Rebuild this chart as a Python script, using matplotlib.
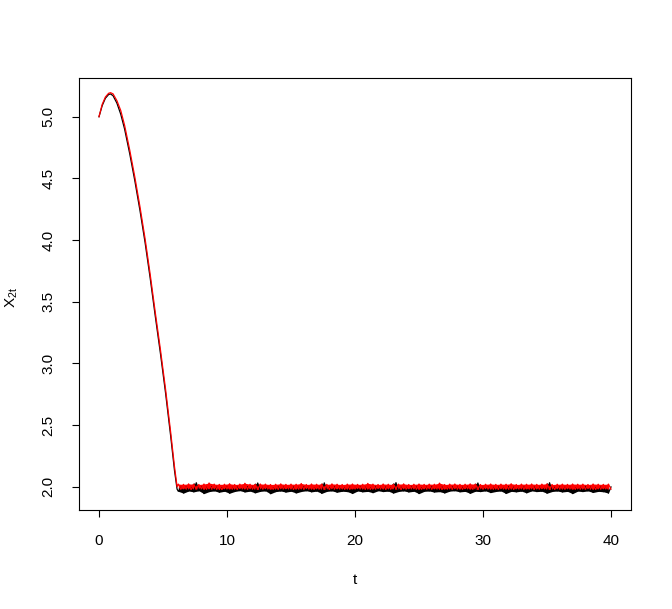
import numpy as np
import matplotlib
matplotlib.use("Agg")
import matplotlib.pyplot as plt

plt.rcParams['font.family'] = ['Liberation Sans', 'DejaVu Sans']

# transient part
t_curve = [0, 0.25, 0.5, 0.75, 0.9, 1.1, 1.4, 1.7, 2.0, 2.4, 2.8, 3.2,
           3.6, 4.0, 4.4, 4.8, 5.2, 5.6, 5.9, 6.1]
x2_black_curve = [5.00, 5.09, 5.15, 5.18, 5.185, 5.17, 5.11, 5.02, 4.90, 4.70,
                  4.48, 4.24, 3.98, 3.69, 3.38, 3.08, 2.76, 2.41, 2.13, 1.98]
x2_red_curve = [5.00, 5.10, 5.16, 5.19, 5.195, 5.185, 5.13, 5.05, 4.93, 4.73,
                4.51, 4.27, 4.01, 3.72, 3.41, 3.11, 2.79, 2.44, 2.16, 2.00]

# noisy plateau, sampled every 0.2 from t = 6.2 to 40 (high / low swings)
red_hi = [2.021, 2.019, 2.023, 2.020, 2.018, 2.022, 2.030, 2.021, 2.019, 2.020,
          2.024, 2.018, 2.021, 2.028, 2.020, 2.019, 2.022, 2.021, 2.018, 2.020,
          2.023, 2.019, 2.021, 2.020, 2.026, 2.018, 2.022, 2.020, 2.021, 2.019,
          2.023, 2.020, 2.018, 2.021, 2.022, 2.019, 2.020, 2.027, 2.021, 2.018,
          2.022, 2.020, 2.019, 2.021, 2.023, 2.018, 2.020, 2.022, 2.019, 2.021,
          2.020, 2.029, 2.018, 2.021, 2.022, 2.019, 2.020, 2.023, 2.021, 2.018,
          2.020, 2.022, 2.019, 2.021, 2.020, 2.024, 2.018, 2.021, 2.020, 2.022,
          2.019, 2.021, 2.023, 2.018, 2.020, 2.021, 2.019, 2.022, 2.020, 2.021,
          2.018, 2.022, 2.020, 2.019, 2.021]
red_lo = [1.980, 1.983, 1.978, 1.981, 1.984, 1.979, 1.982, 1.980, 1.977, 1.983,
          1.981, 1.979, 1.984, 1.980, 1.982, 1.978, 1.981, 1.983, 1.979, 1.980,
          1.982, 1.984, 1.978, 1.981, 1.980, 1.983, 1.979, 1.982, 1.980, 1.978,
          1.981, 1.983, 1.980, 1.979, 1.982, 1.984, 1.980, 1.978, 1.981, 1.983,
          1.979, 1.980, 1.982, 1.978, 1.981, 1.984, 1.980, 1.979, 1.982, 1.980,
          1.983, 1.978, 1.981, 1.980, 1.982, 1.979, 1.984, 1.980, 1.978, 1.981,
          1.983, 1.980, 1.979, 1.982, 1.981, 1.978, 1.983, 1.980, 1.982, 1.979,
          1.981, 1.984, 1.980, 1.978, 1.982, 1.980, 1.983, 1.979, 1.981, 1.980,
          1.982, 1.978, 1.981, 1.983, 1.980]
black_hi = [1.996, 1.998, 1.994, 2.032, 1.997, 1.995, 1.999, 1.996, 1.993, 1.998,
            1.995, 1.997, 1.994, 1.999, 1.996, 2.030, 1.995, 1.997, 1.993, 1.998,
            1.996, 1.994, 1.997, 1.995, 1.999, 1.996, 1.993, 1.997, 2.031, 1.995,
            1.998, 1.996, 1.994, 1.997, 1.995, 1.999, 1.996, 1.993, 1.998, 1.995,
            1.997, 1.994, 2.033, 1.996, 1.995, 1.998, 1.997, 1.993, 1.996, 1.999,
            1.995, 1.997, 1.994, 1.998, 1.996, 1.995, 1.997, 1.993, 2.030, 1.996,
            1.998, 1.995, 1.997, 1.994, 1.999, 1.996, 1.995, 1.998, 1.993, 1.997,
            1.996, 1.994, 2.032, 1.995, 1.998, 1.996, 1.997, 1.993, 1.995, 1.999,
            1.996, 1.994, 1.997, 1.995, 1.998]
black_lo = [1.962, 1.948, 1.965, 1.958, 1.967, 1.944, 1.960, 1.966, 1.955, 1.963,
            1.947, 1.961, 1.968, 1.957, 1.964, 1.950, 1.962, 1.966, 1.943, 1.960,
            1.965, 1.956, 1.963, 1.949, 1.961, 1.967, 1.958, 1.964, 1.946, 1.962,
            1.966, 1.955, 1.963, 1.960, 1.945, 1.965, 1.958, 1.962, 1.951, 1.967,
            1.960, 1.964, 1.948, 1.961, 1.966, 1.957, 1.963, 1.944, 1.962, 1.965,
            1.956, 1.960, 1.949, 1.964, 1.967, 1.958, 1.962, 1.946, 1.963, 1.960,
            1.966, 1.952, 1.961, 1.965, 1.945, 1.962, 1.958, 1.964, 1.950, 1.966,
            1.960, 1.963, 1.947, 1.961, 1.965, 1.957, 1.962, 1.944, 1.964, 1.960,
            1.966, 1.953, 1.962, 1.959, 1.948]

x_ticks = [0, 10, 20, 30, 40]
y_ticks = [2.0, 2.5, 3.0, 3.5, 4.0, 4.5, 5.0]

# plateau time grid: one high/low pair every 0.4
t_pair = 6.2 + 0.4 * np.arange(len(red_hi))
t_flat = np.concatenate([t_pair, t_pair + 0.2])
order = np.argsort(t_flat)
t_flat = t_flat[order]
keep = t_flat <= 40.0001


def interleave(a, b):
    return np.concatenate([a, b])[order][keep]


t_flat = t_flat[keep]
t_all = np.concatenate([t_curve, t_flat])
black_all = np.concatenate([x2_black_curve, interleave(black_lo, black_hi)])
red_all = np.concatenate([x2_red_curve, interleave(red_hi, red_lo)])

fig = plt.figure(figsize=(6.72, 6.09), dpi=100)
ax = fig.add_axes([79 / 672, 1 - 510 / 609, (631 - 79) / 672, (510 - 78) / 609])

# the dense noise shows up as a solid band
ax.fill_between(t_pair, black_lo, black_hi, color='black', lw=0)
ax.plot(t_all, black_all, color='black', lw=0.9)
ax.fill_between(t_pair, red_lo, red_hi, color='red', lw=0)
ax.plot(t_all, red_all, color='red', lw=0.9)

ax.set_xlim(-1.5625, 41.5625)
ax.set_ylim(1.811, 5.314)
ax.set_xticks(x_ticks)
ax.set_xticklabels([str(v) for v in x_ticks])
ax.set_yticks(y_ticks)
ax.set_yticklabels(['%.1f' % v for v in y_ticks], rotation=90, va='center')
ax.tick_params(direction='out', length=5, width=0.8, labelsize=11, pad=12)
for s in ax.spines.values():
    s.set_linewidth(0.8)

fig.text(355 / 672, 1 - 580 / 609, 't', ha='center', va='center', fontsize=11)
fig.text(12 / 672, 1 - 297 / 609, r'$\mathregular{X_{2t}}$', ha='center', va='center',
         rotation=90, fontsize=11)

fig.savefig('out.png', dpi=100)
